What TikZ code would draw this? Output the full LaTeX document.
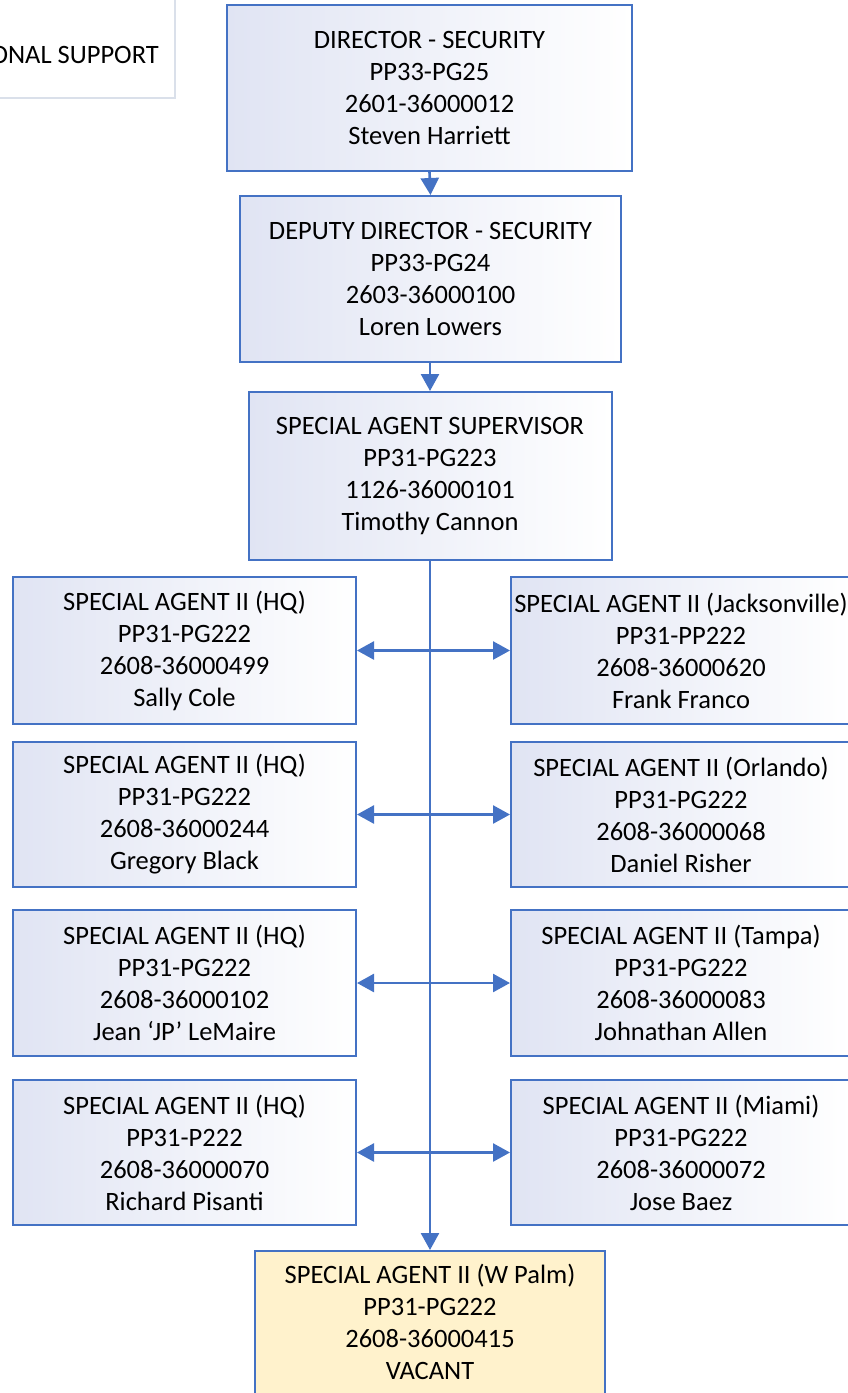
\documentclass[tikz,border=0pt]{standalone}
\usepackage{fontspec}
\setmainfont{Carlito}
\usetikzlibrary{arrows.meta}
\definecolor{boxblue}{RGB}{68,114,196}
\definecolor{shadeblue}{RGB}{224,228,243}
\definecolor{vacant}{RGB}{255,242,204}
\definecolor{greyline}{RGB}{218,224,234}
\tikzset{
  orgbox/.style={draw=boxblue, line width=2pt, left color=shadeblue, right color=white,
    align=center, inner sep=0pt, font=\fontsize{26.5}{32}\selectfont},
  vacantbox/.style={draw=boxblue, line width=2pt, fill=vacant,
    align=center, inner sep=0pt, font=\fontsize{26.5}{32}\selectfont},
  conn/.style={draw=boxblue, line width=2.6pt},
  tip/.style={-{Triangle[length=17pt,width=18pt]}},
  dtip/.style={{Triangle[length=17pt,width=18pt]}-{Triangle[length=17pt,width=18pt]}}
}
\begin{document}
\begin{tikzpicture}[x=1pt,y=-1pt]
\useasboundingbox (0,0) rectangle (848,1393);
\clip (0,0) rectangle (848,1393);
% top-left partial box
\draw[greyline, line width=1.5pt, fill=white] (-20,-20) rectangle (175,98);
\node[anchor=east, inner sep=0pt, font=\fontsize{26.5}{32}\selectfont] (ops) at (159,55) {ONAL SUPPORT};
% main chain
\node[orgbox, minimum width=405pt, minimum height=166pt] (dir) at (429.5,88)
  {DIRECTOR - SECURITY\\PP33-PG25\\2601-36000012\\Steven Harriett};
\node[orgbox, minimum width=381pt, minimum height=166pt] (dep) at (430.5,279)
  {DEPUTY DIRECTOR - SECURITY\\PP33-PG24\\2603-36000100\\Loren Lowers};
\node[orgbox, minimum width=363pt, minimum height=168pt] (sup) at (430,476)
  {SPECIAL AGENT SUPERVISOR\\PP31-PG223\\1126-36000101\\Timothy Cannon};
\node[vacantbox, minimum width=350pt, minimum height=180pt, anchor=north] (wp) at (430,1250) {};
\node[font=\fontsize{26.5}{32}\selectfont, align=center, inner sep=0pt] (wpt) at (430,1322)
  {SPECIAL AGENT II (W Palm)\\PP31-PG222\\2608-36000415\\VACANT};
% left column
\node[orgbox, minimum width=343pt, minimum height=147pt] (l1) at (184.5,650.5)
  {SPECIAL AGENT II (HQ)\\PP31-PG222\\2608-36000499\\Sally Cole};
\node[orgbox, minimum width=343pt, minimum height=145pt] (l2) at (184.5,814.5)
  {SPECIAL AGENT II (HQ)\\PP31-PG222\\2608-36000244\\Gregory Black};
\node[orgbox, minimum width=343pt, minimum height=146pt] (l3) at (184.5,983)
  {SPECIAL AGENT II (HQ)\\PP31-PG222\\2608-36000102\\Jean ‘JP’ LeMaire};
\node[orgbox, minimum width=343pt, minimum height=145pt] (l4) at (184.5,1152.5)
  {SPECIAL AGENT II (HQ)\\PP31-P222\\2608-36000070\\Richard Pisanti};
% right column
\node[orgbox, minimum width=340pt, minimum height=147pt] (r1) at (681,650.5)
  {SPECIAL AGENT II (Jacksonville)\\PP31-PP222\\2608-36000620\\Frank Franco};
\node[orgbox, minimum width=340pt, minimum height=145pt] (r2) at (681,814.5)
  {SPECIAL AGENT II (Orlando)\\PP31-PG222\\2608-36000068\\Daniel Risher};
\node[orgbox, minimum width=340pt, minimum height=146pt] (r3) at (681,983)
  {SPECIAL AGENT II (Tampa)\\PP31-PG222\\2608-36000083\\Johnathan Allen};
\node[orgbox, minimum width=340pt, minimum height=145pt] (r4) at (681,1152.5)
  {SPECIAL AGENT II (Miami)\\PP31-PG222\\2608-36000072\\Jose Baez};
% connectors
\draw[conn, tip] (dir.south) -- (dep.north);
\draw[conn, tip] (dep.south -| sup.north) -- (sup.north);
\draw[conn, tip] (sup.south) -- (wp.north);
\draw[conn, dtip] (l1.east) -- (r1.west);
\draw[conn, dtip] (l2.east) -- (r2.west);
\draw[conn, dtip] (l3.east) -- (r3.west);
\draw[conn, dtip] (l4.east) -- (r4.west);
\end{tikzpicture}
\end{document}
